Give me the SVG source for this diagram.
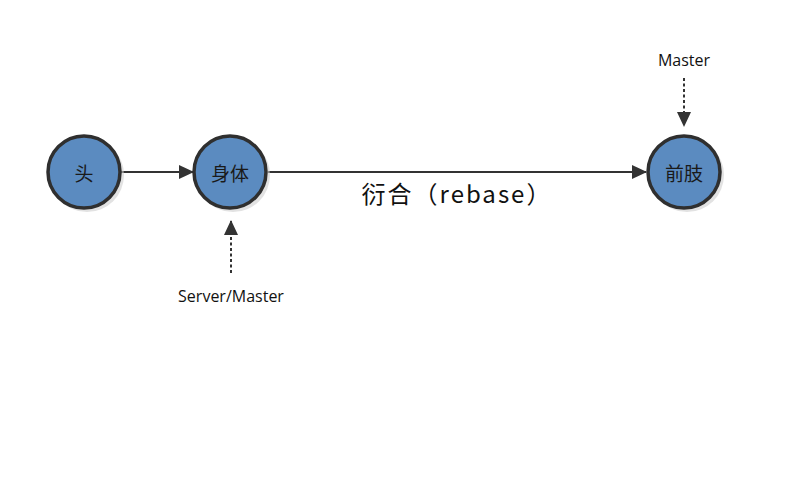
<svg xmlns="http://www.w3.org/2000/svg" width="800" height="481" viewBox="0 0 800 481">
<defs>
<style>
.node circle.main{fill:#5b8bc0;stroke:#2f2f2f;stroke-width:3.5}
.node circle.shadow{fill:#cfcfcf;opacity:0.6}
.node text{font-family:"Noto Sans CJK SC","Liberation Sans",sans-serif;font-size:19px;fill:#1a1a1a;text-anchor:middle;dominant-baseline:central}
.lbl{font-family:"Open Sans","Noto Sans","Liberation Sans",sans-serif;font-size:16px;fill:#111;text-anchor:middle}
.edge{stroke:#333;stroke-width:2;fill:none}
.dash{stroke:#333;stroke-width:2;fill:none;stroke-dasharray:3 2.5}
</style>
<marker id="arr" viewBox="0 0 15 14" refX="14" refY="7" markerWidth="15" markerHeight="14" markerUnits="userSpaceOnUse" orient="auto">
<path d="M0,0 L15,7 L0,14 z" fill="#333"/>
</marker>
</defs>
<rect width="800" height="481" fill="#fff"/>
<g id="connectors">
<line class="edge" x1="121" y1="172" x2="193" y2="172" marker-end="url(#arr)"/>
<line class="edge" x1="268" y1="172" x2="646" y2="172" marker-end="url(#arr)"/>
<line class="dash" x1="684" y1="78" x2="684" y2="126" marker-end="url(#arr)"/>
<line class="dash" x1="231" y1="273" x2="231" y2="221" marker-end="url(#arr)"/>
<text class="lbl" x="457" y="203" style="font-family:'Noto Sans CJK SC','Liberation Sans',sans-serif;font-size:24px;letter-spacing:2px">衍合（rebase）</text>
</g>
<g id="node-tou" class="node">
<circle class="shadow" cx="87" cy="175" r="37"/>
<circle class="main" cx="84" cy="172" r="36"/>
<text x="84" y="172">头</text>
</g>
<g id="node-shenti" class="node">
<circle class="shadow" cx="233" cy="175" r="37"/>
<circle class="main" cx="230" cy="172" r="36"/>
<text x="230" y="172">身体</text>
</g>
<g id="node-qianzhi" class="node">
<circle class="shadow" cx="687" cy="175" r="37"/>
<circle class="main" cx="684" cy="172" r="36"/>
<text x="684" y="172">前肢</text>
</g>
<g id="label-master">
<text class="lbl" x="684" y="66">Master</text>
</g>
<g id="label-server-master">
<text class="lbl" x="231" y="302">Server/Master</text>
</g>
</svg>
